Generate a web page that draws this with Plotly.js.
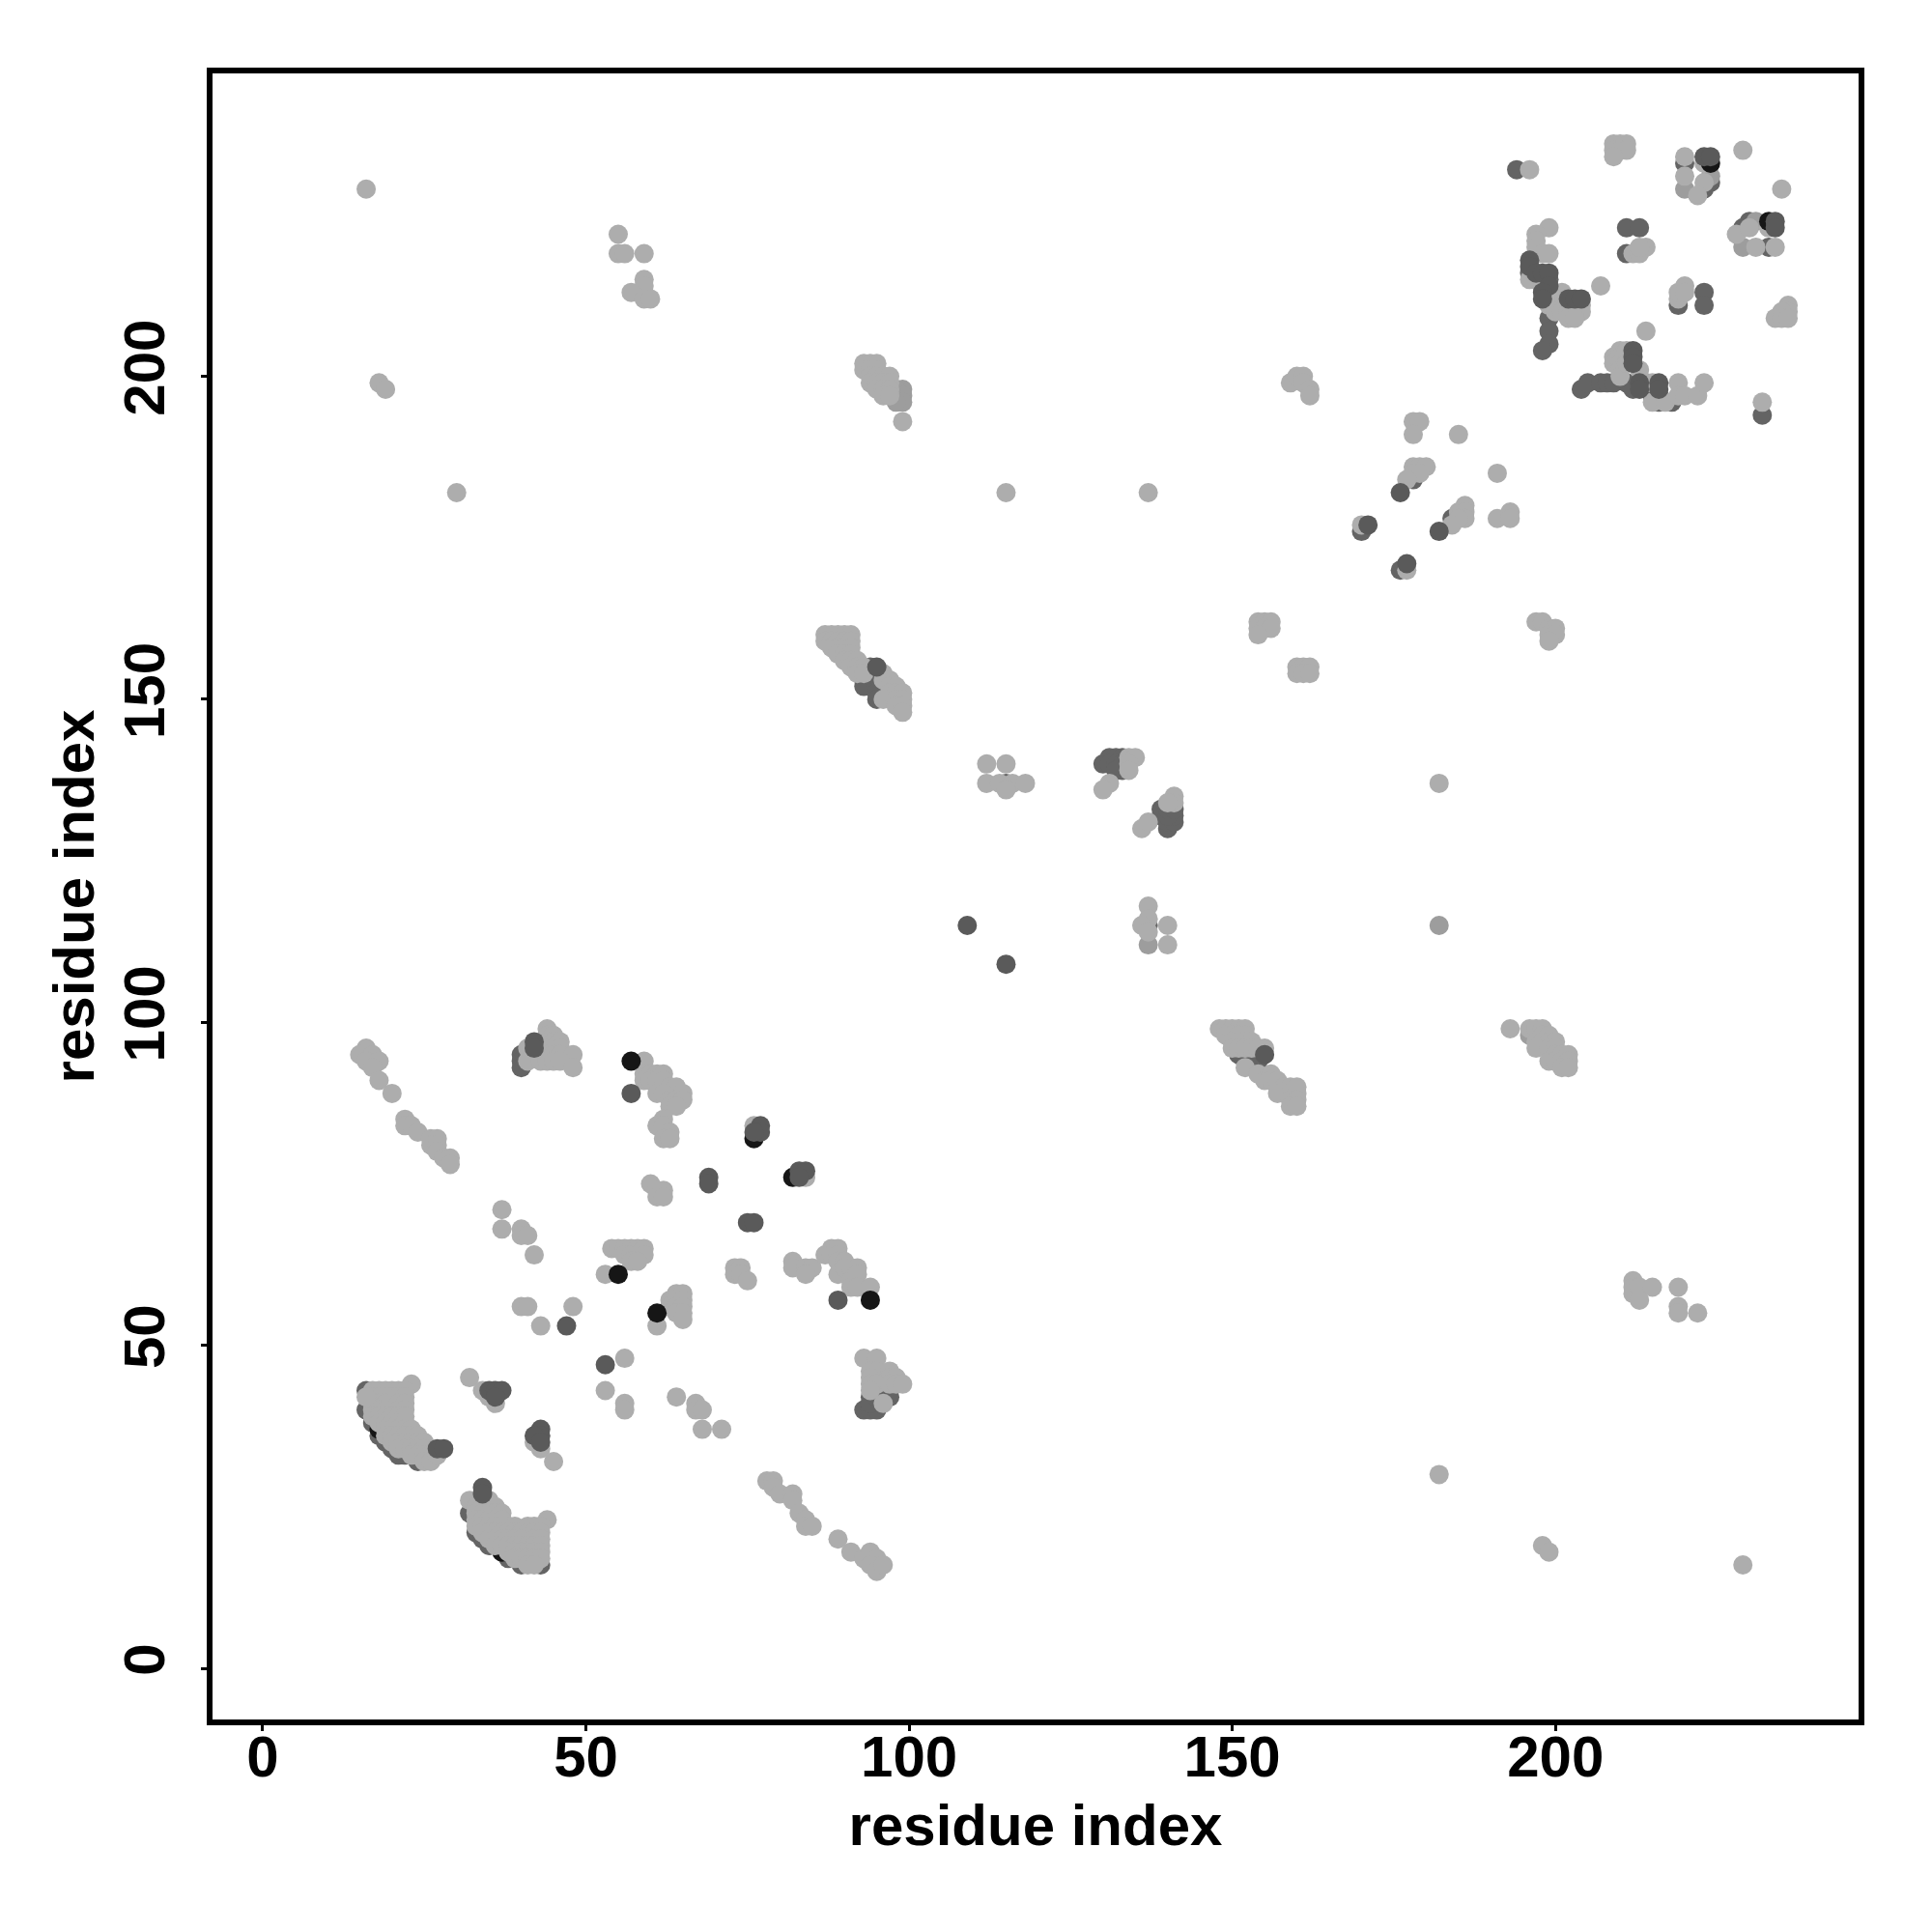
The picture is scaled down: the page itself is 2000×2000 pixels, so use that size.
<!DOCTYPE html>
<html><head><meta charset="utf-8">
<script src="https://cdn.plot.ly/plotly-3.0.1.min.js"></script>
<style>html,body{margin:0;padding:0;background:#fff}</style></head>
<body><div id="chart" style="width:2000px;height:2000px"></div>
<script>
const xTicks=[0,50,100,150,200];
const yTicks=[0,50,100,150,200];
const axisLabel="residue index";
const lightColor="#adadad", midColor="#9d9d9d", darkColor="#646464", deepColor="#5a5a5a", blackColor="#161616";

const darkUnder=[[16,43],[16,40],[17,38],[18,36],[19,35],[20,34],[21,33],[22,33],[24,32],[20,41],
[32,24],[33,21],[34,20],[35,19],[38,17],[40,16],[43,16],[41,20],
[40,95],[40,94],[40,93],[41,95],[42,95],[43,96],
[93,40],[94,40],[95,40],[94,42],[94,41],[96,43],[96,42],[97,42],[95,43],[95,42],
[94,155],[93,153],[94,153],[93,152],[95,152],[95,151],[94,154],[95,150],[96,151],
[151,95],[152,95],[152,94],[153,94],[153,95],[154,94],
[115,137],[130,140],[131,141],[132,141],[133,141],[131,140],[132,140],[133,140],[133,139],[132,139],
[139,132],[139,133],[140,130],[140,131],[141,131],[141,132],[140,132],[140,133],[141,133],
[137,115],[178,184],[184,178],[170,176],[176,170],
[194,232],[220,233],[223,229],[224,230],[229,223],[230,224],[233,220],
[196,216],[199,215],[199,209],[199,207],[199,205],[198,204],
[211,223],[213,223],[211,219],[219,211],[223,213],[223,211],
[204,198],[205,199],[207,199],[208,199],[209,199],[211,199],[212,198],[215,197],[216,197],[216,196],[218,196],[232,194]];
const blackUnder=[[18,37],[37,18]];
const midPoints=[[99,198],[98,198],[99,197],[99,196],[98,196],[137,112],[182,115],[220,229],[224,231],[229,220],[231,224],[196,98],[197,98],[214,199]];
const lightPoints=[[23,44],
[17,43],[18,43],[19,43],[20,43],[21,43],[22,43],[17,42],[18,42],[19,42],[20,42],[21,42],[22,42],
[17,41],[18,41],[19,41],[21,41],[22,41],[17,40],[18,40],[19,40],[21,40],[22,40],
[17,39],[18,39],[19,39],[20,39],[21,39],[22,39],[18,38],[19,38],[20,38],[21,38],[22,38],
[19,37],[20,37],[21,37],[22,37],[23,37],[19,36],[20,36],[21,36],[22,36],[23,36],[24,36],
[20,35],[21,35],[22,35],[23,35],[24,35],[25,35],[21,34],[22,34],[23,34],[24,34],[25,34],
[23,33],[24,33],[25,33],[26,33],[25,32],[26,32],[27,33],[16,42],
[32,45],[34,43],[35,42],[36,41],[42,35],[43,34],[45,32],
[32,26],[33,26],[34,26],[35,26],[33,25],[34,25],[35,25],[36,25],[33,24],[34,24],[35,24],[36,24],[37,24],
[33,23],[34,23],[35,23],[36,23],[37,23],[44,23],[33,22],[34,22],[35,22],[36,22],[37,22],[38,22],[39,22],[41,22],[42,22],[43,22],
[34,21],[35,21],[36,21],[37,21],[38,21],[39,21],[40,21],[41,21],[42,21],[43,21],
[35,20],[36,20],[37,20],[38,20],[39,20],[40,20],[42,20],[43,20],[36,19],[37,19],[38,19],[39,19],[40,19],[41,19],[42,19],[43,19],
[38,18],[39,18],[40,18],[41,18],[42,18],[43,18],[39,17],[40,17],[41,17],[42,17],[43,17],[41,16],[42,16],
[16,96],[15,95],[17,95],[16,94],[18,94],[17,93],[18,91],[20,89],[22,85],[22,84],[23,84],[24,83],[26,82],[27,82],[26,81],[27,81],[27,80],[28,79],[29,79],[29,78],
[44,99],[44,98],[45,98],[44,97],[45,97],[46,97],[41,96],[44,96],[45,96],[46,96],[43,95],[44,95],[45,95],[46,95],[48,95],
[41,94],[43,94],[44,94],[45,94],[46,94],[48,93],
[59,94],[59,92],[60,92],[61,92],[62,92],[59,91],[60,91],[61,91],[62,91],[63,90],[64,90],[61,89],[62,89],[65,89],[63,88],[64,88],[65,88],[63,87],[64,87],[62,85],[61,84],[62,84],[63,83],[62,82],[63,82],
[76,84],[84,76],[60,75],[61,74],[62,74],[61,73],[62,73],
[37,71],[37,68],[40,68],[40,67],[41,67],[42,64],
[54,65],[55,65],[56,65],[57,65],[58,65],[59,65],[56,64],[57,64],[58,64],[59,64],[57,63],[58,63],[53,61],
[73,62],[74,62],[73,61],[74,61],[75,60],
[82,63],[82,62],[84,62],[85,62],[84,61],[87,64],[88,65],[89,65],[88,64],[89,64],[89,63],[90,63],[89,61],[90,62],[91,62],[92,62],[91,60],[92,61],[91,59],[92,59],[94,59],
[40,56],[41,56],[48,56],[43,53],[61,53],[64,58],[65,58],[63,57],[64,57],[65,57],[63,56],[64,56],[65,56],[64,55],[65,55],[65,54],
[56,48],[53,43],[56,41],[56,40],[64,42],[67,41],[67,40],[68,40],[68,37],[71,37],
[78,29],[79,29],[79,28],[80,27],[82,27],[82,26],[83,24],[84,23],[84,22],[85,22],[89,20],[91,18],[93,17],[94,18],[95,17],[94,16],[95,15],[96,16],
[93,48],[95,48],[94,46],[95,46],[97,46],[94,45],[97,45],[98,45],[94,44],[95,44],[97,44],[98,44],[99,44],[94,43],[96,41],
[87,160],[88,160],[89,160],[90,160],[91,160],[87,159],[88,159],[89,159],[90,159],[91,159],[88,158],[89,158],[90,158],[91,158],[89,157],[90,157],[91,157],[90,156],[91,156],[92,156],[91,155],[92,155],[93,155],[92,154],[93,154],
[96,154],[96,153],[97,153],[97,152],[98,152],[96,150],[97,151],[98,151],[99,151],[98,150],[99,150],[98,149],[99,149],[99,148],
[148,99],[149,99],[150,99],[151,99],[152,99],[149,98],[150,98],[151,98],[152,98],[150,97],[151,97],[152,97],[153,97],[150,96],[151,96],[152,96],[153,96],[154,96],[155,96],
[152,93],[154,92],[155,91],[156,92],[156,91],[157,91],[158,90],[159,90],[160,90],[157,89],[159,89],[160,89],[159,88],[160,88],[159,87],[160,87],
[193,99],[196,99],[197,99],[198,99],[198,98],[199,98],[197,97],[198,97],[199,97],[200,97],[197,96],[199,96],[200,96],[200,95],[201,95],[202,95],[199,94],[200,94],[201,94],[202,94],[201,93],[202,93],
[112,140],[115,140],[112,137],[114,137],[116,137],[118,137],[115,136],[134,141],[135,141],[134,140],[134,139],[131,137],[130,136],
[136,130],[137,131],[141,135],[141,134],[140,134],[137,118],[137,116],[136,115],[140,115],[137,114],[140,112],
[178,193],[179,193],[178,191],[185,191],[178,186],[179,186],[180,186],[178,185],[179,185],[177,184],[191,185],[186,180],[185,179],[186,179],[186,178],[185,178],[184,177],[191,178],[193,179],[193,178],[170,177],[177,170],
[93,202],[94,202],[95,202],[93,201],[94,201],[95,201],[94,200],[95,200],[96,200],[97,200],[94,199],[95,199],[96,199],[97,199],[95,198],[96,198],[97,198],[96,197],[97,197],[99,193],
[55,222],[55,219],[56,219],[59,219],[59,215],[59,214],[57,213],[59,212],[60,212],
[196,232],[210,236],[211,236],[209,236],[209,235],[210,235],[211,235],[209,234],[220,234],[220,231],[223,233],[223,230],[222,228],[229,235],[235,229],
[228,222],[230,223],[233,223],[231,220],[234,220],
[199,223],[197,222],[197,221],[197,220],[198,219],[199,219],[196,215],[198,215],[198,214],
[201,213],[200,212],[199,211],[201,211],[202,211],[203,211],[204,211],[200,210],[201,210],[202,210],[203,210],[204,210],[202,209],[203,209],[207,214],
[212,219],[213,219],[214,220],[213,220],[219,212],[219,213],[220,214],[220,213],[236,211],[236,210],[235,210],[234,209],[235,209],[236,209],[214,207],
[209,203],[210,204],[209,202],[210,203],[210,202],[210,201],[210,200],[211,204],[211,202],[213,201],[215,199],[219,199],[215,196],[217,196],[219,197],[220,197],[222,197],[223,199],[232,196],
[16,229],[18,199],[19,198],[30,182],[115,182],[137,182],[182,137],[182,30],[198,19],[199,18],[229,16],
[159,199],[160,200],[161,200],[161,199],[162,198],[162,197],
[154,162],[155,162],[156,162],[154,161],[155,161],[156,161],[154,160],[160,155],[161,155],[162,155],[160,154],[161,154],[162,154],
[197,162],[198,162],[199,161],[200,161],[199,160],[200,160],[199,159],
[212,60],[212,59],[212,58],[213,59],[215,59],[213,57],[219,59],[219,56],[219,55],[222,55]];
const blackMid=[[224,233],[233,224],[76,82],[82,76]];
const darkTop=[[27,34],[28,34],[35,43],[36,43],[37,43],[36,42],[43,37],[43,36],[42,36],[43,35],[34,28],[34,27],
[42,97],[42,96],
[77,84],[77,83],[76,83],[83,77],[84,77],[83,76],[69,76],[69,75],[75,69],[76,69],[57,89],[89,57],[47,53],[53,47],
[95,155],[155,95],[177,171],[171,177],[182,176],[176,182],[109,115],[115,109],
[196,218],[196,217],[197,216],[198,216],[199,216],[199,214],[198,213],[198,212],[202,212],[203,212],[204,212],
[212,204],[212,203],[212,202],[213,199],[213,198],[216,199],[216,198],
[223,234],[224,234],[234,224],[234,223]];
const blackTop=[[57,94],[55,61],[61,55],[94,57]];

function trace(points,color){
  return {type:"scatter",mode:"markers",x:points.map(p=>p[0]),y:points.map(p=>p[1]),
    marker:{color:color,size:20,line:{width:0}},hoverinfo:"x+y"};
}
const fontFamily="'Liberation Sans',Arial,sans-serif";
const axisBase={showgrid:false,zeroline:false,showline:true,mirror:true,linecolor:"#000",linewidth:6,
  ticks:"outside",ticklen:6,tickwidth:3,tickcolor:"#000",tickmode:"array",
  tickfont:{family:fontFamily,size:60,color:"#000",weight:"bold"},automargin:false};
const titleFont={family:fontFamily,size:60,color:"#000",weight:"bold"};
Plotly.newPlot("chart",[
  trace(darkUnder,darkColor),trace(blackUnder,blackColor),trace(midPoints,midColor),trace(lightPoints,lightColor),
  trace(blackMid,blackColor),trace(darkTop,deepColor),trace(blackTop,blackColor)
],{
  width:2000,height:2000,showlegend:false,paper_bgcolor:"#fff",plot_bgcolor:"#fff",
  margin:{l:220,r:76,t:76,b:220,pad:0},
  xaxis:{...axisBase,range:[-7.77,246.9],tickvals:xTicks,ticktext:xTicks.map(String),ticklabelstandoff:-25,
    title:{text:axisLabel,font:titleFont,standoff:19}},
  yaxis:{...axisBase,range:[-7.92,246.9],tickvals:yTicks,ticktext:yTicks.map(String),tickangle:-90,ticklabelstandoff:14,
    title:{text:axisLabel,font:titleFont,standoff:1}}
},{staticPlot:true,displayModeBar:false});
</script></body></html>
